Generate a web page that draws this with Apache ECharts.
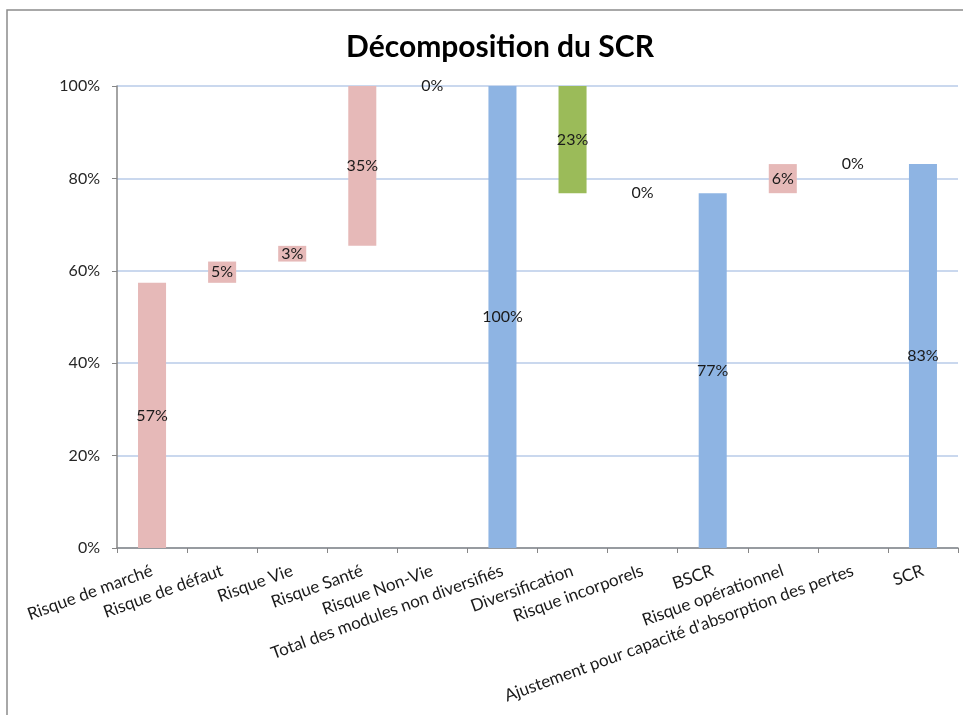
<!DOCTYPE html>
<html>
<head>
<meta charset="utf-8">
<script src="https://cdn.jsdelivr.net/npm/echarts@6/dist/echarts.min.js"></script>
<style>
  html, body { margin: 0; padding: 0; background: #fff; overflow: hidden; }
  #scr { width: 963px; height: 715px; }
</style>
</head>
<body>
<div id="scr"></div>
<script>
// catégories de l'axe x
const categories = [
  'Risque de marché', 'Risque de défaut', 'Risque Vie', 'Risque Santé', 'Risque Non-Vie',
  'Total des modules non diversifiés', 'Diversification', 'Risque incorporels', 'BSCR',
  'Risque opérationnel', "Ajustement pour capacité d'absorption des pertes", 'SCR'
];
// base invisible de la cascade (en %)
const bases = [0, 57.4, 62.0, 65.4, 100, 0, 76.8, 76.8, 0, 76.8, 83.1, 0];
// hauteur visible de chaque barre (en %)
const values = [57.4, 4.6, 3.4, 34.6, 0, 100, 23.2, 0, 76.8, 6.3, 0, 83.1];
// type de barre -> couleur
const kinds = ['risk', 'risk', 'risk', 'risk', 'risk', 'total', 'div', 'risk', 'total', 'risk', 'risk', 'total'];
const yTicks = [0, 20, 40, 60, 80, 100];

const colors = { risk: '#e6b9b8', total: '#8eb4e3', div: '#9bbb59' };
const font = 'Lato, "Open Sans", sans-serif';

const chart = echarts.init(document.getElementById('scr'));

const option = {
  backgroundColor: '#fff',
  animation: false,
  title: {
    text: 'Décomposition du SCR',
    left: 495,
    top: 27,
    textAlign: 'center',
    textStyle: { fontFamily: font, fontSize: 30, fontWeight: 'bold', color: '#000' }
  },
  graphic: [{
    type: 'rect',
    shape: { x: 7, y: 10, width: 1000, height: 800 },
    style: { fill: 'none', stroke: '#8c8c8c', lineWidth: 1.5 },
    silent: true
  }],
  grid: { left: 117, right: 5, top: 86, bottom: 167 },
  xAxis: {
    type: 'category',
    data: categories,
    axisLine: { lineStyle: { color: '#868686', width: 1.5 } },
    axisTick: { show: true, length: 5, lineStyle: { color: '#868686' } },
    axisLabel: {
      interval: 0,
      rotate: 20,
      margin: 22,
      fontFamily: font,
      fontSize: 17,
      color: '#1a1a1a'
    }
  },
  yAxis: {
    type: 'value',
    min: yTicks[0],
    max: yTicks[yTicks.length - 1],
    interval: 20,
    axisLine: { show: true, lineStyle: { color: '#868686', width: 1.5 } },
    axisTick: { show: true, length: 5, lineStyle: { color: '#868686' } },
    axisLabel: {
      margin: 17,
      fontFamily: font,
      fontSize: 16,
      color: '#262626',
      formatter: v => v + '%'
    },
    splitLine: { lineStyle: { color: '#b9cbe8', width: 1.5 } }
  },
  series: [
    {
      name: 'base',
      type: 'bar',
      stack: 'cascade',
      barWidth: '40%',
      itemStyle: { color: 'transparent' },
      emphasis: { disabled: true },
      data: bases
    },
    {
      name: 'valeur',
      type: 'bar',
      stack: 'cascade',
      barWidth: '40%',
      data: values.map((v, i) => ({ value: v, itemStyle: { color: colors[kinds[i]] } })),
      label: {
        show: true,
        position: 'inside',
        fontFamily: font,
        fontSize: 16,
        color: '#1a1a1a',
        formatter: p => Math.round(p.value) + '%'
      }
    }
  ]
};

option && chart.setOption(option);
</script>
</body>
</html>
